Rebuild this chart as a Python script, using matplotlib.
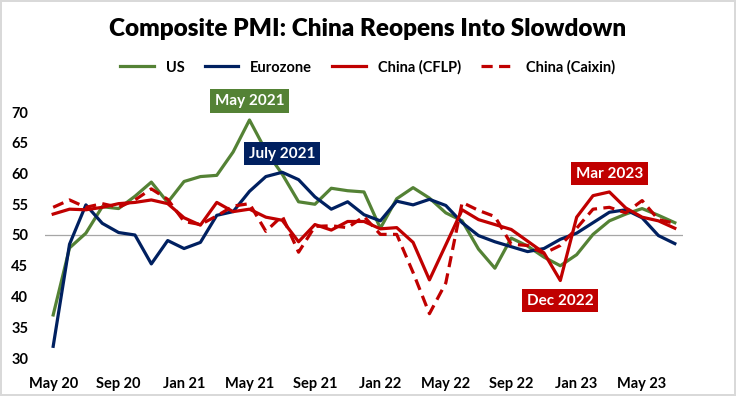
import matplotlib
matplotlib.use('Agg')
import matplotlib.pyplot as plt

plt.rcParams['font.family'] = ['Lato', 'DejaVu Sans']
plt.rcParams['font.weight'] = 'bold'

# monthly, May 2020 - Jul 2023
us = [37.0, 47.9, 50.3, 54.6, 54.3, 56.3, 58.6, 55.3, 58.7, 59.5, 59.7, 63.5, 68.7,
      63.7, 59.9, 55.4, 55.0, 57.6, 57.2, 57.0, 51.1, 55.9, 57.7, 56.0, 53.6, 52.3,
      47.7, 44.6, 49.5, 48.2, 46.4, 45.0, 46.8, 50.1, 52.3, 53.4, 54.3, 53.2, 52.0]
eurozone = [31.9, 48.5, 54.9, 51.9, 50.4, 50.0, 45.3, 49.1, 47.8, 48.8, 53.2, 53.8, 57.1,
            59.5, 60.2, 59.0, 56.2, 54.2, 55.4, 53.3, 52.3, 55.5, 54.9, 55.8, 54.8, 52.0,
            49.9, 48.9, 48.1, 47.3, 47.8, 49.3, 50.3, 52.0, 53.7, 54.1, 52.8, 49.9, 48.6]
china_cflp = [53.4, 54.2, 54.1, 54.5, 55.1, 55.3, 55.7, 55.1, 52.8, 51.6, 55.3, 53.8, 54.2,
              52.9, 52.4, 48.9, 51.7, 50.8, 52.2, 52.2, 51.0, 51.2, 48.8, 42.7, 48.4, 54.1,
              52.5, 51.7, 50.9, 49.0, 47.1, 42.6, 52.9, 56.4, 57.0, 54.4, 52.9, 52.3, 51.1]
china_caixin = [54.5, 55.7, 54.5, 55.1, 54.5, 55.7, 57.5, 55.8, 52.2, 51.7, 53.1, 54.7, 55.1,
                50.6, 53.1, 47.2, 51.4, 51.5, 51.2, 53.0, 50.1, 50.1, 43.9, 37.2, 42.2, 55.3,
                54.0, 53.0, 48.5, 48.3, 47.0, 48.3, 51.1, 54.2, 54.5, 53.6, 55.6, 52.5, 51.9]
tick_labels = ['May 20', 'Sep 20', 'Jan 21', 'May 21', 'Sep 21', 'Jan 22',
               'May 22', 'Sep 22', 'Jan 23', 'May 23']

green = '#548235'
navy = '#002060'
red = '#C00000'

x = list(range(len(us)))

fig = plt.figure(figsize=(7.36, 3.96), dpi=100)
fig.patch.set_edgecolor('#D9D9D9')
fig.patch.set_linewidth(1.5)
ax = fig.add_axes([45/736, 38/396, 638/736, 246/396])

ax.axhline(50, color='#A6A6A6', lw=0.9, zorder=1)
ax.plot(x, us, color=green, lw=2.3, label='US')
ax.plot(x, eurozone, color=navy, lw=2.3, label='Eurozone')
ax.plot(x, china_cflp, color=red, lw=2.3, label='China (CFLP)')
ax.plot(x, china_caixin, color=red, lw=2.3, ls=(0, (3.5, 2)), label='China (Caixin)')

ax.set_xlim(-0.5, len(us) - 0.5)
ax.set_ylim(30, 70)
ax.set_xticks(x[::4])
ax.set_xticklabels(tick_labels)
ax.set_yticks(range(30, 71, 5))
ax.tick_params(length=0, labelsize=10.5)
ax.tick_params(axis='x', pad=14)
ax.tick_params(axis='y', pad=12)
for s in ax.spines.values():
    s.set_visible(False)

def tag(xv, yv, txt, col):
    ax.text(xv, yv, txt, color='white', fontsize=11, fontweight='bold',
            ha='center', va='center', clip_on=False, zorder=5,
            bbox=dict(boxstyle='square,pad=0.3', fc=col, ec='none'))

tag(12, 71.8, 'May 2021', green)
tag(14, 63.2, 'July 2021', navy)
tag(34, 60.0, 'Mar 2023', red)
tag(31, 39.3, 'Dec 2022', red)

fig.suptitle('Composite PMI: China Reopens Into Slowdown', fontsize=17.5, fontweight='heavy', y=0.955)
fig.legend(loc='center', bbox_to_anchor=(0.5, 0.83), ncol=4, frameon=False,
           fontsize=10.5, handlelength=2.3, handletextpad=0.8, columnspacing=1.4)

fig.savefig('out.png', dpi=100)
